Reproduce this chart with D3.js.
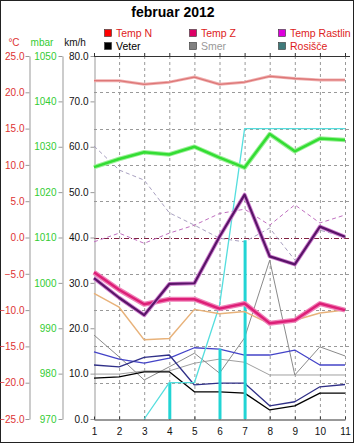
<!DOCTYPE html>
<html>
<head>
<meta charset="utf-8">
<script src="https://cdn.jsdelivr.net/npm/d3@7"></script>
<style>
  body { margin: 0; background: #fff; }
  svg text { font-family: Arial, "Liberation Sans", sans-serif; }
</style>
</head>
<body>
<div id="chart"></div>
<script>
// days of the month
const days = [1, 2, 3, 4, 5, 6, 7, 8, 9, 10, 11];

// temperatures, °C
const tempN = [21.6, 21.6, 21.1, 21.4, 22.1, 21.1, 21.4, 22.2, 21.9, 21.7, 21.7];
const tempRastlin = [-5.6, -8.3, -10.7, -6.4, -6.3, 0.1, 5.9, -2.6, -3.7, 1.5, 0.1];
const tempZ = [-4.8, -7.2, -9.2, -8.5, -8.5, -9.8, -9.1, -11.8, -11.4, -9.1, -10.0];
const rosisce = [-7.7, -9.6, -14.1, -13.9, -9.9, -10.5, -10.2, -11.9, -11.4, -10.4, -10.0];
const tempMax = [-0.6, 0.6, -0.8, 0.6, 1.7, 3.3, 3.9, 1.7, 4.5, 2.0, 3.1];
const tempMin = [12.6, 9.3, 7.9, 3.4, 1.7, -0.1, -0.6, 1.3, -3.1, 1.0, 0.1];

// pressure, mbar
const tlak = [1025.5, 1027.3, 1028.8, 1028.3, 1030.0, 1027.6, 1025.4, 1032.8, 1029.0, 1031.8, 1031.5];

// wind and others, km/h
const padavine = [null, null, 0, 8, 8, 25, 64, 64, 64, 64, 64];
const padavineDan = [0, 0, 0, 8, 0, 15.5, 39.4, 0, 0, 0, 0];
const veter = [9.0, 9.3, 10.4, 10.4, 6.0, 6.0, 5.7, 2.0, 2.9, 5.7, 5.7];
const sunki = [11.9, 11.5, 13.6, 14.1, 7.5, 7.9, 7.9, 2.9, 3.8, 7.1, 7.6];
const vlaga = [14.8, 13.2, 12.3, 13.4, 15.7, 15.4, 14.1, 14.1, 15.2, 11.9, 11.9];
const smer = [18.5, 13.7, 8.6, 11.5, 14.5, 10.1, 17.9, 35.0, 9.7, 15.9, 13.9];
const smerPov = [9.9, 9.9, 10.6, 10.6, 12.3, 13.2, 12.5, 9.7, 9.7, 9.7, 9.7];

// axis ticks
const tickC = [25, 20, 15, 10, 5, 0, -5, -10, -15, -20, -25];
const tickM = [1050, 1040, 1030, 1020, 1010, 1000, 990, 980, 970];
const tickK = [80, 70, 60, 50, 40, 30, 20, 10, 0];

const legendItems = [
  {name: "Temp N", box: "#ff0000", text: "#dd2222"},
  {name: "Temp Z", box: "#dd0066", text: "#dd2222"},
  {name: "Temp Rastlin", box: "#dd00dd", text: "#dd2222"},
  {name: "Veter", box: "#000000", text: "#000000"},
  {name: "Smer", box: "#808080", text: "#999999"},
  {name: "Rosišče", box: "#3f7a7a", text: "#dd2222"}
];

const W = 355, H = 445;
const pTop = 56, pBottom = 419, pLeft = 94, pRight = 345;

const svg = d3.select("#chart").append("svg")
  .attr("width", W).attr("height", H);

svg.append("rect").attr("x", 0.5).attr("y", 0.5)
  .attr("width", W - 2).attr("height", H - 3)
  .attr("fill", "#fff").attr("stroke", "#222");

const x = d3.scaleLinear().domain([1, 11]).range([pLeft, pRight]);
const yC = d3.scaleLinear().domain([-25, 25]).range([pBottom, pTop]);
const yM = d3.scaleLinear().domain([970, 1050]).range([pBottom, pTop]);
const yK = d3.scaleLinear().domain([0, 80]).range([pBottom, pTop]);

// title
svg.append("text").attr("x", 173).attr("y", 17)
  .attr("text-anchor", "middle")
  .style("font-size", "14px").style("font-weight", "bold")
  .text("februar 2012");

// legend
const lg = svg.selectAll(".lg").data(legendItems).enter().append("g")
  .attr("transform", (d, i) => `translate(${[104, 189, 278][i % 3]},${i < 3 ? 33 : 46})`);
lg.append("rect").attr("x", 0.5).attr("y", -3.5).attr("width", 7).attr("height", 7)
  .attr("fill", d => d.box).attr("stroke", "#333").attr("stroke-width", 0.6);
lg.append("text").attr("x", 12).attr("y", 4)
  .style("font-size", "10.5px").attr("fill", d => d.text)
  .text(d => d.name);

// axis titles
svg.append("text").attr("x", 14).attr("y", 46).attr("text-anchor", "middle")
  .style("font-size", "10px").attr("fill", "#dd3333").text("°C");
svg.append("text").attr("x", 42).attr("y", 46).attr("text-anchor", "middle")
  .style("font-size", "10px").attr("fill", "#33cc33").text("mbar");
svg.append("text").attr("x", 75).attr("y", 46).attr("text-anchor", "middle")
  .style("font-size", "10px").attr("fill", "#111").text("km/h");

// grid
const grid = svg.append("g");
grid.selectAll(".gv").data(days.slice(1)).enter().append("line")
  .attr("x1", d => x(d) + 0.5).attr("x2", d => x(d) + 0.5)
  .attr("y1", pTop).attr("y2", pBottom)
  .attr("stroke", "#999").attr("stroke-dasharray", "3,3");
grid.selectAll(".gh").data(tickC.filter(t => t < 25 && t > -25)).enter().append("line")
  .attr("x1", pLeft).attr("x2", pRight + 5)
  .attr("y1", d => Math.round(yC(d)) + 0.5).attr("y2", d => Math.round(yC(d)) + 0.5)
  .attr("stroke", d => d === 0 ? "#802040" : "#999")
  .attr("stroke-dasharray", d => d === 0 ? "5,2,1,2" : "3,3");

// axes
function styleAxis(g, color) {
  g.select(".domain").attr("stroke", "#999");
  g.selectAll(".tick line").attr("stroke", "#999");
  g.selectAll(".tick text").attr("fill", color).style("font-size", "10px")
    .style("font-family", "Arial, 'Liberation Sans', sans-serif");
}
svg.append("g").attr("transform", "translate(29.5,0)")
  .call(d3.axisLeft(yC).tickValues(tickC).tickFormat(d3.format(".1f")).tickSize(4).tickSizeOuter(0).tickPadding(1))
  .call(g => styleAxis(g, "#dd3333"));
svg.append("g").attr("transform", "translate(62.5,0)")
  .call(d3.axisLeft(yM).tickValues(tickM).tickFormat(d3.format("d")).tickSize(4).tickSizeOuter(0).tickPadding(2))
  .call(g => styleAxis(g, "#33cc33"));
svg.append("g").attr("transform", `translate(${pLeft + 0.5},0)`)
  .call(d3.axisLeft(yK).tickValues(tickK).tickFormat(d3.format(".1f")).tickSize(4).tickSizeOuter(0).tickPadding(2))
  .call(g => styleAxis(g, "#111"));

const xa = svg.append("g").attr("transform", `translate(0,${pBottom + 0.5})`)
  .call(d3.axisBottom(x).tickValues(days).tickFormat(d3.format("d")).tickSize(-3).tickSizeOuter(0).tickPadding(8));
xa.select(".domain").attr("stroke", "#333");
xa.selectAll(".tick line").attr("stroke", "#333");
xa.selectAll(".tick text").attr("fill", "#111").style("font-size", "10px");

// top frame with small ticks
svg.append("line").attr("x1", pLeft).attr("x2", 350).attr("y1", pTop + 0.5).attr("y2", pTop + 0.5)
  .attr("stroke", "#333");
svg.selectAll(".tt").data(days).enter().append("line")
  .attr("x1", d => x(d) + 0.5).attr("x2", d => x(d) + 0.5)
  .attr("y1", pTop - 3).attr("y2", pTop)
  .attr("stroke", "#333");

// series
const plot = svg.append("g");
function drawLine(values, y, color, width, dash) {
  const line = d3.line().defined(d => d[1] != null)
    .x(d => x(d[0])).y(d => y(d[1]));
  plot.append("path")
    .datum(days.map((d, i) => [d, values[i]]))
    .attr("d", line)
    .attr("fill", "none").attr("stroke", color)
    .attr("stroke-width", width)
    .attr("stroke-linejoin", "round")
    .attr("stroke-dasharray", dash || null);
}

drawLine(tempMin, yC, "#a8a0c0", 1, "4,3");
drawLine(tempMax, yC, "#c070c0", 1, "4,3");
drawLine(smerPov, yK, "#a0a0a0", 1);
drawLine(smer, yK, "#8a8a8a", 1);
drawLine(vlaga, yK, "#4444c8", 1.3);
drawLine(sunki, yK, "#303088", 1.3);
drawLine(veter, yK, "#000", 1.3);

// daily bars
plot.selectAll(".bar").data(days.map((d, i) => [d, padavineDan[i]]).filter(d => d[1] > 0))
  .enter().append("line")
  .attr("x1", d => x(d[0]) + 0.5).attr("x2", d => x(d[0]) + 0.5)
  .attr("y1", d => yK(d[1])).attr("y2", yK(0))
  .attr("stroke", "#22d4d4").attr("stroke-width", 3);
drawLine(padavine, yK, "#55dede", 1.3);

drawLine(rosisce, yC, "#e8b27a", 1.5);
drawLine(tempZ, yC, "#f080b8", 5);
drawLine(tempZ, yC, "#dd1f77", 2.5);
drawLine(tempRastlin, yC, "#d080d0", 4);
drawLine(tempRastlin, yC, "#5a1468", 2.2);
drawLine(tlak, yM, "#9ef09a", 4.5);
drawLine(tlak, yM, "#33dd33", 2.5);
drawLine(tempN, yC, "#f0b0b0", 3);
drawLine(tempN, yC, "#dd7777", 1.3);
</script>
</body>
</html>
